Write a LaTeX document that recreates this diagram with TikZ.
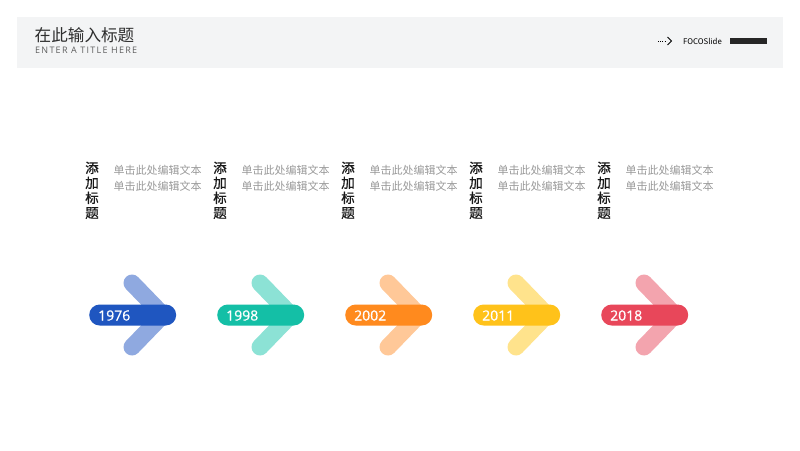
\documentclass[tikz,border=0pt]{standalone}
\usepackage{fontspec}
\setmainfont{Noto Sans CJK SC}
\newfontfamily\vfont[FakeBold=0.8]{Noto Sans CJK SC}
\newfontfamily\numfont[FakeBold=0.8]{Open Sans}
\newfontfamily\subfont[LetterSpace=14]{Open Sans}
\definecolor{hdrbg}{HTML}{F3F4F5}
\definecolor{titlec}{HTML}{2E2E2E}
\definecolor{subc}{HTML}{5E5E5E}
\definecolor{bodyc}{HTML}{9A9A9A}
\definecolor{cA}{HTML}{1F56C0}\definecolor{aA}{HTML}{8FA9E0}
\definecolor{cB}{HTML}{14BFA6}\definecolor{aB}{HTML}{8CE2D5}
\definecolor{cC}{HTML}{FF8A1E}\definecolor{aC}{HTML}{FFC898}
\definecolor{cD}{HTML}{FFC21A}\definecolor{aD}{HTML}{FFE38C}
\definecolor{cE}{HTML}{E8475A}\definecolor{aE}{HTML}{F3A4AE}
\tikzset{
  armline/.style={line width=17pt, line cap=round, line join=round},
  pill/.style={rounded corners=10.5pt, minimum width=87pt, minimum height=21pt, inner sep=0pt, anchor=west},
  yeartxt/.style={font=\numfont\fontsize{14}{14}\selectfont, text=white, anchor=west, inner sep=0pt},
  vtitle/.style={font=\vfont\fontsize{13.5}{15}\selectfont, text=black!90, align=center, anchor=north, inner sep=0pt},
  bodytxt/.style={font=\fontsize{11}{16}\selectfont, text=bodyc, align=left, anchor=north west, inner sep=0pt},
}
\begin{document}
\begin{tikzpicture}[x=1pt,y=-1pt]
\useasboundingbox (0,0) rectangle (800,450);
\fill[white] (0,0) rectangle (800,450);
% header
\fill[hdrbg] (17,17) rectangle (783,68);
\node[anchor=west, inner sep=0pt, text=titlec, font=\fontsize{16.6}{18}\selectfont] (title) at (34.5,35.5) {在此输入标题};
\node[anchor=west, inner sep=0pt, text=subc, font=\subfont\fontsize{9}{9}\selectfont] (subtitle) at (35,50) {ENTER A TITLE HERE};
\coordinate (dl) at (658,41);
\coordinate (dr) at (666,41);
\draw[black, line width=0.9pt, dash pattern=on 0.9pt off 1.3pt] (dl) -- (dr);
\coordinate (ct) at (667.5,37);
\coordinate (cm) at (671.5,41);
\coordinate (cb) at (667.5,45);
\draw[black, line width=0.9pt] (ct) -- (cm) -- (cb);
\node[anchor=west, inner sep=0pt, font=\fontsize{7.8}{8}\selectfont, text=black] (brand) at (683,41) {FOCOSlide};
\fill[black!85] (730,38) rectangle (767,44);
% columns
\foreach \i/\yr/\c/\a in {0/1976/cA/aA, 1/1998/cB/aB, 2/2002/cC/aC, 3/2011/cD/aD, 4/2018/cE/aE}{
  \pgfmathsetmacro{\dx}{128*\i}
  \begin{scope}[xshift=\dx pt]
    \node[vtitle] (vt\i) at (92,161.5) {添\\加\\标\\题};
    \node[bodytxt] (bt\i) at (113.5,164.5) {单击此处编辑文本\\单击此处编辑文本};
    \coordinate (up\i) at (132,283);
    \coordinate (tip\i) at (163,315);
    \coordinate (lo\i) at (132,347);
    \draw[armline, draw=\a] (up\i) -- (tip\i) -- (lo\i);
    \node[pill, fill=\c] (p\i) at (89,315) {};
    \node[yeartxt] (y\i) at (98,315.5) {\yr};
  \end{scope}
}
\end{tikzpicture}
\end{document}
